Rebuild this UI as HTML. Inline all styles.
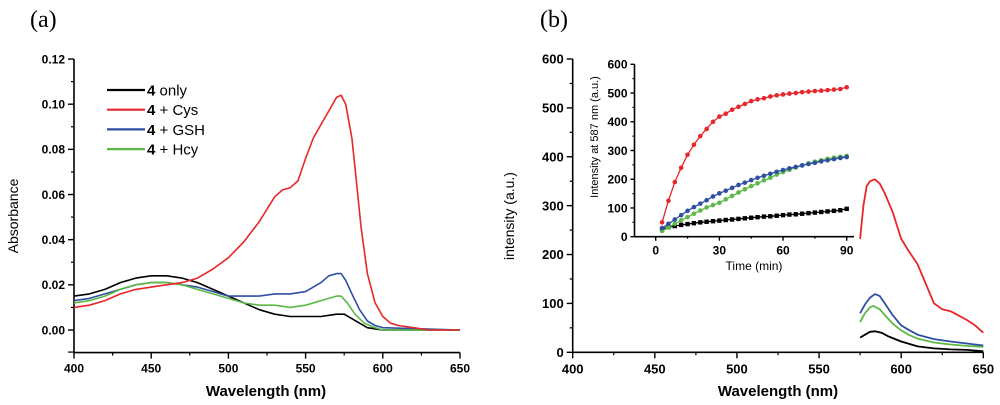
<!DOCTYPE html>
<html><head><meta charset="utf-8"><style>
html,body{margin:0;padding:0;background:#fff;}
svg{display:block;font-family:"Liberation Sans",Arial,sans-serif;}
</style></head><body>
<svg id="fig" width="1000" height="405" viewBox="0 0 1000 405" xmlns="http://www.w3.org/2000/svg">
<text x="30" y="27" font-family="Liberation Serif,serif" font-size="24">(a)</text>
<text x="540" y="27" font-family="Liberation Serif,serif" font-size="24">(b)</text>
</svg>
<script>
// ---- Panel (a) data ----
const aBlackX=[400,410,420,430,440,450,460,470,480,490,500,510,520,530,540,550,560,570,575,580,585,590,600,650];
const aBlackY=[0.015,0.016,0.018,0.021,0.023,0.024,0.024,0.023,0.021,0.018,0.015,0.012,0.009,0.007,0.006,0.006,0.006,0.007,0.007,0.005,0.003,0.001,0,0];
const aRedX=[400,410,420,430,440,450,460,470,480,490,500,510,520,530,535,540,545,550,555,560,565,570,573,576,580,583,586,590,595,600,605,610,620,630,650];
const aRedY=[0.010,0.011,0.013,0.016,0.018,0.019,0.020,0.021,0.023,0.027,0.032,0.039,0.048,0.059,0.062,0.063,0.066,0.076,0.085,0.091,0.097,0.103,0.104,0.100,0.085,0.065,0.045,0.025,0.012,0.006,0.003,0.002,0.001,0,0];
const aBlueX=[400,410,420,430,440,450,460,470,480,490,500,510,520,530,540,550,560,565,570,573,576,580,585,590,595,600,650];
const aBlueY=[0.013,0.014,0.016,0.018,0.020,0.021,0.021,0.020,0.019,0.017,0.015,0.015,0.015,0.016,0.016,0.017,0.021,0.024,0.025,0.025,0.022,0.016,0.009,0.004,0.002,0.001,0];
const aGreenX=[400,410,420,430,440,450,460,470,480,490,500,510,520,530,540,550,560,570,573,577,582,588,595,600,650];
const aGreenY=[0.012,0.013,0.015,0.018,0.020,0.021,0.021,0.020,0.018,0.016,0.014,0.012,0.011,0.011,0.010,0.011,0.013,0.015,0.015,0.012,0.007,0.003,0.001,0,0];
const aXTicks=[400,450,500,550,600,650];
const aYTicks=[0.00,0.02,0.04,0.06,0.08,0.10,0.12];
const legendLabels=["only","+ Cys","+ GSH","+ Hcy"];
// ---- Panel (b) data ----
const bRedX=[575,577,579,581,584,587,590,595,600,605,610,615,620,625,630,635,640,645,650];
const bRedY=[232,300,340,350,354,345,325,285,232,205,180,140,100,88,84,75,66,55,40];
const bBlueX=[575,578,581,584,587,590,595,600,605,610,620,630,640,650];
const bBlueY=[80,98,112,119,115,100,75,55,45,36,27,22,18,14];
const bGreenX=[575,578,581,583,587,590,595,600,605,610,620,630,640,650];
const bGreenY=[62,80,92,95,88,76,58,45,35,28,20,16,13,11];
const bBlackX=[575,578,581,584,588,592,600,610,620,630,640,650];
const bBlackY=[30,36,42,43,40,33,22,12,8,6,5,2];
const bXTicks=[400,450,500,550,600,650];
const bYTicks=[0,100,200,300,400,500,600];
// ---- Inset data ----
const tTimes=[3,6,9,12,15,18,21,24,27,30,33,36,39,42,45,48,51,54,57,60,63,66,69,72,75,78,81,84,87,90];
const tRed=[50,125,190,240,285,320,350,375,400,418,428,442,452,462,472,478,482,488,492,495,498,500,503,505,507,508,510,512,514,520];
const tBlue=[30,45,60,75,90,103,115,127,140,151,160,170,180,188,197,205,212,219,226,232,238,243,248,253,257,262,266,270,274,277];
const tGreen=[20,32,45,57,68,80,91,102,110,118,130,142,154,165,176,186,196,205,216,225,233,241,249,255,261,266,271,275,278,281];
const tBlack=[27,33,37,41,44,47,50,52,54,56,58,60,62,64,66,68,70,71,73,75,77,78,80,82,84,86,88,90,92,97];
const iXTicks=[0,30,60,90];
const iYTicks=[0,100,200,300,400,500,600];

const NS="http://www.w3.org/2000/svg";
const svg=document.getElementById('fig');
function mk(tag,attrs,parent){const e=document.createElementNS(NS,tag);for(const k in attrs)e.setAttribute(k,attrs[k]);(parent||svg).appendChild(e);return e;}
const RED="#e8262a",BLUE="#2e4fa3",GREEN="#5cb946",BLACK="#000";

const ax=v=>74+(v-400)*(386/250);
const ay=v=>330-v*2258;
const bx=v=>572.7+(v-400)*(410.6/250);
const by=v=>352.3-v*(293.3/600);
const ix=v=>655.7+v*(191/90);
const iy=v=>236.7-v*(172.4/600);

function axes(g,x0,x1,y0,y1,xt,yt,fx,fy,fmtY,fs,minorX,minorY,tl,name){
  const a=mk('line',{x1:x0,y1:y1,x2:x1,y2:y1,stroke:'#000','stroke-width':1.6},g);
  
  
  const b=mk('line',{x1:x0,y1:y0,x2:x0,y2:y1,stroke:'#000','stroke-width':1.6},g);
  
  
  xt.forEach((v,i)=>{const X=fx(v);
    mk('line',{x1:X,y1:y1,x2:X,y2:y1+tl,stroke:'#000','stroke-width':1.4},g);
    const t=mk('text',{x:X,y:y1+tl+fs+2,'text-anchor':'middle','font-size':fs,'font-weight':'bold'},g);t.textContent=v;
    
    
    if(i<xt.length-1){const M=fx(v+minorX);mk('line',{x1:M,y1:y1,x2:M,y2:y1+tl/2,stroke:'#000','stroke-width':1.2},g);}
  });
  yt.forEach((v,i)=>{const Y=fy(v);
    mk('line',{x1:x0,y1:Y,x2:x0-tl,y2:Y,stroke:'#000','stroke-width':1.4},g);
    const t=mk('text',{x:x0-tl-3,y:Y+fs*0.36,'text-anchor':'end','font-size':fs,'font-weight':'bold'},g);t.textContent=fmtY(v);
    
    
    if(i<yt.length-1){const M=fy(v+minorY);mk('line',{x1:x0,y1:M,x2:x0-tl/2,y2:M,stroke:'#000','stroke-width':1.2},g);}
  });
}
function line(g,xs,ys,fx,fy,color,w,name){
  const p=mk('polyline',{points:xs.map((x,i)=>fx(x).toFixed(1)+','+fy(ys[i]).toFixed(1)).join(' '),fill:'none',stroke:color,'stroke-width':w,'stroke-linejoin':'round'},g);
  
  
  return p;
}
// ---- Panel a ----
const ga=mk('g',{});


axes(ga,74,460,59,352.6,aXTicks,aYTicks,ax,ay,v=>v.toFixed(2),12,25,0.01,6,'panel-a');
mk('line',{x1:74,y1:ay(-0.01)-0.5,x2:68,y2:ay(-0.01)-0.5,stroke:'#000','stroke-width':1.2},ga);
line(ga,aBlackX,aBlackY,ax,ay,BLACK,1.6,'series-4-only');
line(ga,aBlueX,aBlueY,ax,ay,BLUE,1.6,'series-4-gsh');
line(ga,aGreenX,aGreenY,ax,ay,GREEN,1.6,'series-4-hcy');
line(ga,aRedX,aRedY,ax,ay,RED,1.6,'series-4-cys');
[BLACK,RED,BLUE,GREEN].forEach((c,i)=>{const Y=90+i*19.7;
  const l=mk('line',{x1:107,y1:Y,x2:145,y2:Y,stroke:c,'stroke-width':2.2},ga);
  
  
  const t=mk('text',{x:147,y:Y+5.5,'font-size':15},ga);
  t.innerHTML='<tspan font-weight="bold">4</tspan> '+legendLabels[i];
  
  
});
let t=mk('text',{x:266,y:396,'text-anchor':'middle','font-size':15,'font-weight':'bold'},ga);t.textContent='Wavelength (nm)';


t=mk('text',{x:0,y:0,transform:'translate(18,216) rotate(-90)','text-anchor':'middle','font-size':14},ga);t.textContent='Absorbance';


// ---- Panel b ----
const gb=mk('g',{});


axes(gb,572.7,983.3,59,352.3,bXTicks,bYTicks,bx,by,v=>v,13,25,50,6,'panel-b');
line(gb,bBlackX,bBlackY,bx,by,BLACK,1.8,'series-b-4-only');
line(gb,bGreenX,bGreenY,bx,by,GREEN,1.8,'series-b-4-hcy');
line(gb,bBlueX,bBlueY,bx,by,BLUE,1.8,'series-b-4-gsh');
line(gb,bRedX,bRedY,bx,by,RED,1.8,'series-b-4-cys');
t=mk('text',{x:778,y:396,'text-anchor':'middle','font-size':15,'font-weight':'bold'},gb);t.textContent='Wavelength (nm)';


t=mk('text',{x:0,y:0,transform:'translate(514,216) rotate(-90)','text-anchor':'middle','font-size':14},gb);t.textContent='intensity (a.u.)';


// ---- Inset ----
const gi=mk('g',{});


axes(gi,634.5,854,64.3,236.7,iXTicks,iYTicks,ix,iy,v=>v,12,15,50,4,'inset');
function series(ys,c,name,shape){
  line(gi,tTimes,ys,ix,iy,c,1.3,name+'-line');
  tTimes.forEach((x,i)=>{
    const X=ix(x),Y=iy(ys[i]);
    const m=shape==='sq'?mk('rect',{x:X-2.2,y:Y-2.2,width:4.4,height:4.4,fill:c},gi):mk('circle',{cx:X,cy:Y,r:2.3,fill:c},gi);
    
    
  });
}
series(tBlack,BLACK,'inset-4-only','sq');
series(tGreen,GREEN,'inset-4-hcy','c');
series(tBlue,BLUE,'inset-4-gsh','c');
series(tRed,RED,'inset-4-cys','c');
t=mk('text',{x:754,y:270,'text-anchor':'middle','font-size':12},gi);t.textContent='Time (min)';


t=mk('text',{x:0,y:0,transform:'translate(598,137) rotate(-90)','text-anchor':'middle','font-size':11},gi);t.textContent='Intensity at 587 nm (a.u.)';


</script>
</body></html>
